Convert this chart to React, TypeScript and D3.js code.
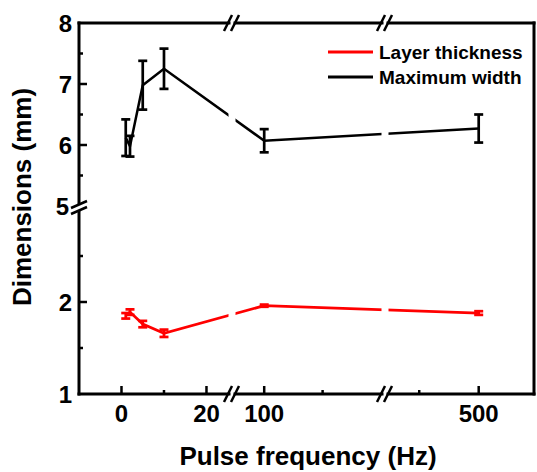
import React from 'react';
import * as d3 from 'd3';

// pulse frequency (Hz) and measured dimensions (mm)
const freqs = [1, 2, 5, 10, 100, 500];
const maxWidth = [6.12, 5.98, 6.98, 7.25, 6.07, 6.27];
const maxWidthErr = [0.3, 0.17, 0.4, 0.33, 0.19, 0.23];
const thickness = [1.85, 1.89, 1.76, 1.66, 1.96, 1.88];
const thicknessErr = [0.03, 0.03, 0.035, 0.04, 0.012, 0.02];

const xMajor = [0, 20, 100, 500];
const xMinor = [10, 200, 400];
const yLabels = [1, 2, 5, 6, 7, 8];
const yMajor = [2, 6, 7];
const yMinor = [1.5, 2.5, 5.5, 6.5, 7.5];

const W = 537, H = 472;
const left = 79, right = 534, top = 23, bottom = 394;
const font = '"Liberation Sans", Arial, sans-serif';

// broken x axis: three pieces
const xPieces = [
  d3.scaleLinear().domain([-10, 25.3]).range([left, 229]),
  d3.scaleLinear().domain([50, 301.7]).range([235, 382]),
  d3.scaleLinear().domain([347.5, 593]).range([388, right]),
];
const xBreaks = [232, 385];
const x = (v: number) => {
  const s = xPieces.find(p => v >= p.domain()[0] && v <= p.domain()[1]) || xPieces[0];
  return s(v);
};

// broken y axis: two pieces
const yLow = d3.scaleLinear().domain([1, 3]).range([bottom, 210]);
const yHigh = d3.scaleLinear().domain([5, 8]).range([206, top]);
const y = (v: number) => (v >= 4 ? yHigh(v) : yLow(v));

function Series({ vals, errs, color, width }: { vals: number[]; errs: number[]; color: string; width: number }) {
  const line = d3.line<number>().x((_, i) => x(freqs[i])).y(v => y(v));
  return (
    <g>
      <path d={line(vals) || ''} fill="none" stroke={color} strokeWidth={width} mask="url(#gaps)" />
      {vals.map((v, i) => {
        const cx = x(freqs[i]);
        const y1 = y(v + errs[i]), y2 = y(v - errs[i]);
        return (
          <g key={i} stroke={color} strokeWidth={2.7}>
            <line x1={cx} x2={cx} y1={y1} y2={y2} />
            <line x1={cx - 4.5} x2={cx + 4.5} y1={y1} y2={y1} />
            <line x1={cx - 4.5} x2={cx + 4.5} y1={y2} y2={y2} />
          </g>
        );
      })}
    </g>
  );
}

function HBreakMarks({ cx, cy }: { cx: number; cy: number }) {
  return (
    <g stroke="black" strokeWidth={2.5}>
      <line x1={cx - 8} y1={cy + 8} x2={cx} y2={cy - 8} />
      <line x1={cx - 1} y1={cy + 8} x2={cx + 7} y2={cy - 8} />
    </g>
  );
}

export default function App() {
  const gapHalf = 3;
  const hSegs: [number, number][] = [
    [left, xBreaks[0] - gapHalf],
    [xBreaks[0] + gapHalf, xBreaks[1] - gapHalf],
    [xBreaks[1] + gapHalf, right],
  ];
  return (
    <svg width={W} height={H} style={{ position: 'absolute', left: 0, top: 0, background: 'white' }} fontFamily={font} fontWeight="bold">
      <defs>
        <mask id="gaps" maskUnits="userSpaceOnUse" x={0} y={0} width={W} height={H}>
          <rect x={0} y={0} width={W} height={H} fill="white" />
          {xBreaks.map(b => (
            <rect key={b} x={b - 3.5} y={0} width={7} height={H} fill="black" />
          ))}
        </mask>
      </defs>

      {/* frame */}
      <g stroke="black" strokeWidth={3} strokeLinecap="square">
        {hSegs.map(([a, b], i) => (
          <g key={i}>
            <line x1={a} x2={b} y1={top} y2={top} />
            <line x1={a} x2={b} y1={bottom} y2={bottom} />
          </g>
        ))}
        <line x1={left} x2={left} y1={top} y2={203} />
        <line x1={left} x2={left} y1={212} y2={bottom} />
        <line x1={right} x2={right} y1={top} y2={bottom} />
      </g>
      {xBreaks.map(b => (
        <g key={b}>
          <HBreakMarks cx={b} cy={bottom} />
          <HBreakMarks cx={b} cy={top} />
        </g>
      ))}
      <g stroke="black" strokeWidth={2.5}>
        <line x1={71} y1={208} x2={87} y2={201} />
        <line x1={71} y1={214} x2={87} y2={207} />
      </g>

      {/* ticks */}
      <g stroke="black" strokeWidth={2.5}>
        {yMajor.map(v => <line key={'ym' + v} x1={left} x2={left + 8} y1={y(v)} y2={y(v)} />)}
        {yMinor.map(v => <line key={'yn' + v} x1={left} x2={left + 4} y1={y(v)} y2={y(v)} />)}
        {xMajor.map(v => <line key={'xm' + v} x1={x(v)} x2={x(v)} y1={bottom} y2={bottom - 8} />)}
        {xMinor.map(v => <line key={'xn' + v} x1={x(v)} x2={x(v)} y1={bottom} y2={bottom - 4} />)}
      </g>

      {/* tick labels */}
      <g fontSize={24} fill="black">
        {yLabels.map(v => (
          <text key={v} x={v === 5 ? 69 : 72} y={y(v) + 8.5} textAnchor="end">{v}</text>
        ))}
        {xMajor.map(v => (
          <text key={v} x={x(v)} y={422} textAnchor="middle">{v}</text>
        ))}
      </g>

      {/* axis titles */}
      <text x={308} y={465} fontSize={26} textAnchor="middle">Pulse frequency (Hz)</text>
      <text transform="translate(31,197) rotate(-90)" fontSize={26} textAnchor="middle">Dimensions (mm)</text>

      {/* data */}
      <Series vals={maxWidth} errs={maxWidthErr} color="black" width={2.5} />
      <Series vals={thickness} errs={thicknessErr} color="#ff0000" width={2.7} />

      {/* legend */}
      <g fontSize={19}>
        <line x1={328} x2={373} y1={52} y2={52} stroke="#ff0000" strokeWidth={3} />
        <text x={379} y={59}>Layer thickness</text>
        <line x1={328} x2={373} y1={77} y2={77} stroke="black" strokeWidth={3} />
        <text x={379} y={84}>Maximum width</text>
      </g>
    </svg>
  );
}
